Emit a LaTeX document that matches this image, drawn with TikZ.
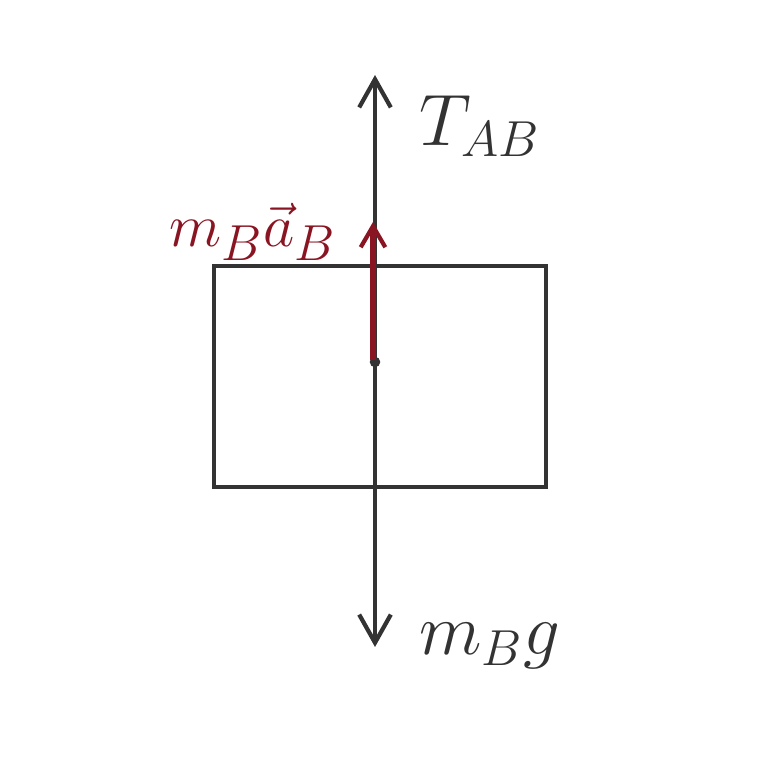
\documentclass[tikz,border=0pt]{standalone}
\usepackage{amsmath}
\usepackage{xcolor}
\usepackage{tikz}
\usetikzlibrary{arrows.meta, positioning}
\definecolor{Ink}{HTML}{333333}
\definecolor{DarkRed}{HTML}{8A1522}

\begin{document}
\begin{tikzpicture}[
  body/.style={draw=Ink, line width=1.1pt, minimum width=3.32cm, minimum height=2.21cm, inner sep=0pt},
  force/.style={-{Straight Barb[length=8pt, width=9pt, line width=1.2pt]}, line width=1.3pt, color=Ink},
  accel/.style={-{Straight Barb[length=6pt, width=7pt, line width=1.2pt]}, line width=1.6pt, color=DarkRed},
  lbl/.style={font=\fontsize{22}{26}\selectfont, color=Ink, inner sep=1pt}
]
\useasboundingbox (0,0) rectangle (7.68,7.68);
\node[body] (block) at (3.80,3.915) {};
\coordinate (cm) at (3.75,4.06);
\coordinate (top) at (3.75,6.93);
\coordinate (bot) at (3.75,1.21);
\coordinate (acc0) at (3.73,4.08);
\coordinate (acc) at (3.73,5.46);
\fill[Ink] (cm) circle (1.5pt);

\draw[force] (cm) -- (top);
\draw[force] (cm) -- (bot);
\draw[accel] (acc0) -- (acc);

\node[lbl, anchor=west] (tab) at (4.15,6.42) {$T_{AB}$};
\node[lbl, anchor=west] (mbg) at (4.15,1.22) {$m_B g$};
\node[lbl, font=\fontsize{19}{23}\selectfont, color=DarkRed, left=0.32cm of acc, yshift=-0.1cm] (mba) {$m_B\vec{a}_B$};
\end{tikzpicture}
\end{document}
